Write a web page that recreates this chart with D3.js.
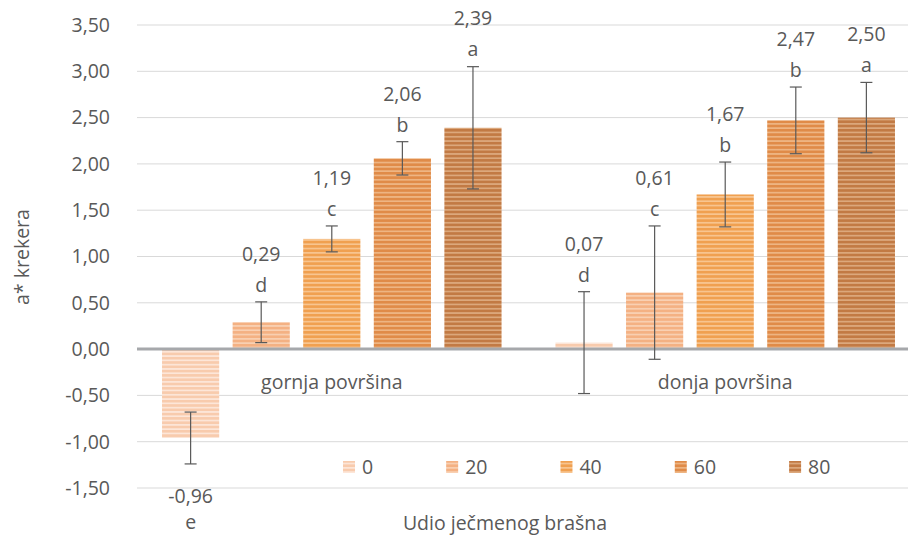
<!DOCTYPE html>
<html>
<head>
<meta charset="utf-8">
<script src="https://cdn.jsdelivr.net/npm/d3@7"></script>
<style>
  body { margin: 0; background: #fff; }
  text { font-family: "Open Sans", sans-serif; fill: #595959; font-size: 19.5px; }
</style>
</head>
<body>
<div id="container"></div>
<script>
const categories = ["gornja površina", "donja površina"]
const series = ["0", "20", "40", "60", "80"]
const gornja = [-0.96, 0.29, 1.19, 2.06, 2.39]
const donja = [0.07, 0.61, 1.67, 2.47, 2.50]
const errGornja = [0.28, 0.22, 0.14, 0.18, 0.66]
const errDonja = [0.55, 0.72, 0.35, 0.36, 0.38]
const lettersGornja = ["e", "d", "c", "b", "a"]
const lettersDonja = ["d", "c", "b", "b", "a"]
const yTicks = [-1.5, -1.0, -0.5, 0, 0.5, 1.0, 1.5, 2.0, 2.5, 3.0, 3.5]

const colors = ["#f8cbad", "#f4b183", "#f0a050", "#e08b48", "#c27a44"]
const stripes = ["#fde6d8", "#f9d0b2", "#f8c590", "#eeb583", "#dca87c"]

const width = 908
const height = 537
const fmt = v => d3.format(".2f")(v).replace(".", ",").replace("−", "-")

const svg = d3.select("#container").append("svg")
    .attr("width", width)
    .attr("height", height)

// striped fills
const defs = svg.append("defs")
series.forEach((s, i) => {
    const p = defs.append("pattern")
        .attr("id", "pat" + i)
        .attr("patternUnits", "userSpaceOnUse")
        .attr("width", 8).attr("height", 4.3)
    p.append("rect").attr("width", 8).attr("height", 4.3).attr("fill", colors[i])
    p.append("rect").attr("y", 2.6).attr("width", 8).attr("height", 1.7).attr("fill", stripes[i])
})

const y = d3.scaleLinear().domain([-1.5, 3.5]).range([488, 25])
const x0 = d3.scaleBand().domain(categories).range([135, 922])
    .paddingInner(0.137).paddingOuter(0.0687)
const x1 = d3.scaleBand().domain(series).range([0, x0.bandwidth()])
    .paddingInner(0.19).paddingOuter(0)

// gridlines + tick labels
const yAxis = svg.append("g")
yAxis.selectAll("line").data(yTicks).enter().append("line")
    .attr("x1", 137).attr("x2", width)
    .attr("y1", d => y(d)).attr("y2", d => y(d))
    .attr("stroke", "#d9d9d9").attr("stroke-width", 1)
yAxis.selectAll("text").data(yTicks).enter().append("text")
    .attr("x", 110).attr("y", d => y(d))
    .attr("dy", "0.35em")
    .attr("text-anchor", "end")
    .text(d => fmt(d))

const rows = [
    {cat: categories[0], vals: gornja, errs: errGornja, letters: lettersGornja},
    {cat: categories[1], vals: donja, errs: errDonja, letters: lettersDonja}
]
const points = []
rows.forEach(r => r.vals.forEach((v, i) => points.push({
    cat: r.cat, s: series[i], i: i, v: v, e: r.errs[i], l: r.letters[i]
})))

// bars
svg.append("g").selectAll("rect").data(points).enter().append("rect")
    .attr("x", d => x0(d.cat) + x1(d.s))
    .attr("width", x1.bandwidth())
    .attr("y", d => y(Math.max(0, d.v)))
    .attr("height", d => Math.abs(y(d.v) - y(0)))
    .attr("fill", d => "url(#pat" + d.i + ")")

// zero line
svg.append("line")
    .attr("x1", 137).attr("x2", width)
    .attr("y1", y(0)).attr("y2", y(0))
    .attr("stroke", "#a6a8ab").attr("stroke-width", 3)

// error bars
const eb = svg.append("g").attr("stroke", "#595959").attr("stroke-width", 1.2)
points.forEach(d => {
    const cx = x0(d.cat) + x1(d.s) + x1.bandwidth() / 2
    eb.append("line").attr("x1", cx).attr("x2", cx)
        .attr("y1", y(d.v + d.e)).attr("y2", y(d.v - d.e))
    ;[d.v + d.e, d.v - d.e].forEach(t => {
        eb.append("line").attr("x1", cx - 6).attr("x2", cx + 6)
            .attr("y1", y(t)).attr("y2", y(t))
    })
})

// data labels (value + letter)
const lab = svg.append("g")
points.forEach(d => {
    const cx = x0(d.cat) + x1(d.s) + x1.bandwidth() / 2
    let yv, yl
    if (d.v >= 0) {
        const top = y(d.v + d.e)
        yl = top - 17
        yv = top - 48
    } else {
        const bot = y(d.v - d.e)
        yv = bot + 32
        yl = bot + 58
    }
    lab.append("text").attr("x", cx).attr("y", yv).attr("dy", "0.35em")
        .attr("text-anchor", "middle").text(fmt(d.v))
    lab.append("text").attr("x", cx).attr("y", yl).attr("dy", "0.35em")
        .attr("text-anchor", "middle").text(d.l)
})

// category labels
svg.append("g").selectAll("text").data(categories).enter().append("text")
    .attr("x", d => x0(d) + x0.bandwidth() / 2)
    .attr("y", 382).attr("dy", "0.35em")
    .attr("text-anchor", "middle")
    .text(d => d)

// legend
const legend = svg.append("g").attr("id", "legend")
let lx = 343
series.forEach((s, i) => {
    legend.append("rect").attr("x", lx).attr("y", 467 - 6)
        .attr("width", 12).attr("height", 12)
        .attr("fill", "url(#pat" + i + ")")
    const t = legend.append("text").attr("x", lx + 19).attr("y", 467)
        .attr("dy", "0.35em").text(s)
    lx += 19 + t.node().getComputedTextLength() + 73
})

// axis titles
svg.append("text")
    .attr("x", 505).attr("y", 523).attr("dy", "0.35em")
    .attr("text-anchor", "middle")
    .text("Udio ječmenog brašna")

svg.append("text")
    .attr("transform", "translate(22,257) rotate(-90)")
    .attr("dy", "0.35em")
    .attr("text-anchor", "middle")
    .text("a* krekera")
</script>
</body>
</html>
